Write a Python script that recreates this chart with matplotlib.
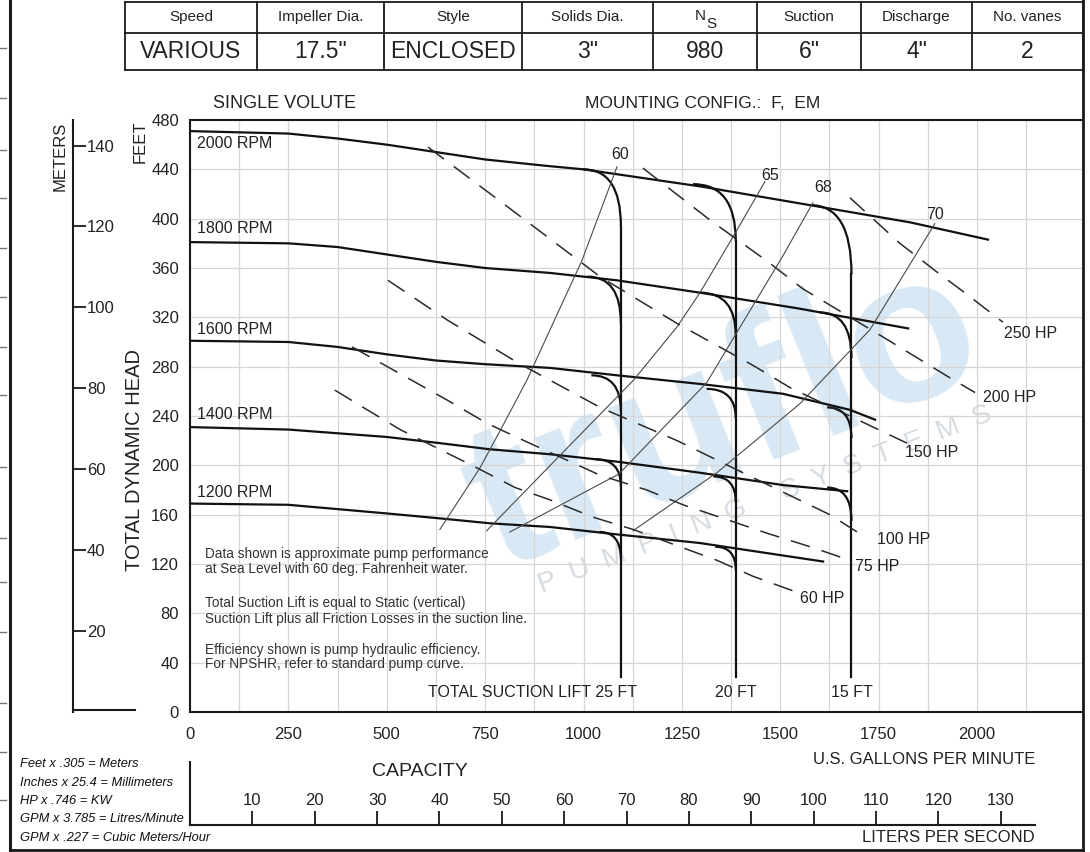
import numpy as np
import matplotlib
matplotlib.use('Agg')
import matplotlib.pyplot as plt
from matplotlib.path import Path
from matplotlib.patches import PathPatch
from matplotlib.lines import Line2D

plt.rcParams['font.family'] = ['Liberation Sans', 'DejaVu Sans']

# ---- data (US GPM, feet) ----
rpm_names = ['2000 RPM', '1800 RPM', '1600 RPM', '1400 RPM', '1200 RPM']
q2000 = [0, 250, 375, 500, 625, 750, 900, 1000, 1300, 1575, 1830, 2028]
h2000 = [471, 469, 465, 460, 454, 448, 443, 440, 426, 411, 397, 383]
q1800 = [0, 250, 375, 500, 625, 750, 915, 1085, 1296, 1550, 1825]
h1800 = [381, 380, 377, 371, 365, 360, 356, 350, 340, 327, 311]
q1600 = [0, 250, 375, 500, 625, 750, 915, 1085, 1296, 1507, 1677, 1741]
h1600 = [301, 300, 296, 290, 285, 282, 279, 273, 266, 258, 245, 237]
q1400 = [0, 250, 500, 635, 762, 915, 1085, 1296, 1507, 1670]
h1400 = [231, 229, 223, 218, 213, 209, 203, 194, 184, 179]
q1200 = [0, 250, 500, 635, 762, 915, 1085, 1296, 1609]
h1200 = [169, 168, 161, 157, 153, 150, 144, 137, 122]
rpm_label_q = [18, 18, 18, 18, 18]
rpm_label_h = [461, 392, 310, 241, 178]

# suction lift limits: vertical line position and knees off each head curve
lift_names = ['TOTAL SUCTION LIFT 25 FT', '20 FT', '15 FT']
lift_q = [1095, 1387, 1681]
lift_bottom = 28
knee_start_q = [[999, 1010, 1020, 1030, 1040],
                [1278, 1296, 1313, 1330, 1335],
                [1576, 1600, 1619, 1619]]
knee_start_h = [[440, 353, 273, 205, 146],
                [428, 340, 262, 191, 134],
                [411, 324, 247, 182]]
knee_end_h = [[394, 315, 244, 183, 124],
              [382, 305, 238, 170, 115],
              [355, 287, 222, 155]]

# efficiency curves (%)
eff_names = ['60', '65', '68', '70']
eff60_q = [635, 737, 793, 856, 915, 996, 1085]
eff60_h = [148, 198, 231, 269, 310, 366, 442]
eff65_q = [754, 940, 1127, 1237, 1296, 1385, 1461]
eff65_h = [147, 208, 269, 312, 340, 388, 430]
eff68_q = [813, 1090, 1313, 1507, 1583]
eff68_h = [146, 193, 267, 370, 413]
eff70_q = [1126, 1339, 1550, 1728, 1893]
eff70_h = [147, 194, 250, 310, 396]
eff_label_q = [1093, 1474, 1609, 1893]
eff_label_h = [452, 435, 425, 403]

# horsepower lines
hp_names = ['250 HP', '200 HP', '150 HP', '100 HP', '75 HP', '60 HP']
hp250_q = [1677, 1804, 1893, 1977, 2066]
hp250_h = [417, 380, 358, 338, 316]
hp200_q = [1151, 1321, 1469, 1558, 1746, 1931, 1995]
hp200_h = [441, 399, 365, 343, 307, 271, 259]
hp150_q = [605, 793, 1042, 1238, 1431, 1525, 1822]
hp150_h = [458, 413, 353, 315, 281, 263, 218]
hp100_q = [503, 653, 834, 1042, 1238, 1431, 1626, 1715]
hp100_h = [350, 318, 283, 247, 220, 190, 160, 142]
hp75_q = [412, 653, 755, 856, 1042, 1161, 1253, 1355, 1466, 1576, 1677]
hp75_h = [296, 253, 234, 219, 192, 180, 168, 157, 145, 134, 123]
hp60_q = [368, 440, 534, 628, 729, 826, 915, 1024, 1126, 1339, 1431, 1543]
hp60_h = [261, 247, 229, 214, 198, 182, 172, 158, 148, 123, 110, 97]
hp_label_q = [2068, 2015, 1817, 1746, 1690, 1550]
hp_label_h = [307, 255, 210, 140, 118, 92]

gpm_ticks = [0, 250, 500, 750, 1000, 1250, 1500, 1750, 2000]
feet_ticks = [0, 40, 80, 120, 160, 200, 240, 280, 320, 360, 400, 440, 480]
meter_ticks = [20, 40, 60, 80, 100, 120, 140]
lps_ticks = [10, 20, 30, 40, 50, 60, 70, 80, 90, 100, 110, 120, 130]

table_head = ['Speed', 'Impeller Dia.', 'Style', 'Solids Dia.', 'N', 'Suction', 'Discharge', 'No. vanes']
table_vals = ['VARIOUS', '17.5"', 'ENCLOSED', '3"', '980', '6"', '4"', '2']

notes = ['Data shown is approximate pump performance',
         'at Sea Level with 60 deg. Fahrenheit water.',
         '',
         'Total Suction Lift is equal to Static (vertical)',
         'Suction Lift plus all Friction Losses in the suction line.',
         '',
         'Efficiency shown is pump hydraulic efficiency.',
         'For NPSHR, refer to standard pump curve.']
conversions = ['Feet x .305 = Meters', 'Inches x 25.4 = Millimeters', 'HP x .746 = KW',
               'GPM x 3.785 = Litres/Minute', 'GPM x .227 = Cubic Meters/Hour']

# ---- figure ----
W, H = 1090, 852
fig = plt.figure(figsize=(W / 100, H / 100), dpi=100)


def fx(x):
    return x / W


def fy(y):
    return 1 - y / H


def fline(xs, ys, lw=1.5, color='#1a1a1a'):
    fig.add_artist(Line2D([fx(x) for x in xs], [fy(y) for y in ys], lw=lw, color=color))


txt = '#222222'

# watermark
fig.text(fx(725), fy(420), 'truflo', fontsize=150, fontweight='bold', color='#d8e9f5',
         rotation=22, ha='center', va='center', zorder=-5)
fig.text(fx(765), fy(500), 'P  U  M  P  I  N  G     S  Y  S  T  E  M  S', fontsize=20,
         color='#d5dbe0', rotation=21, ha='center', va='center', zorder=-5)

ax = fig.add_axes([fx(190), fy(712), (1083 - 190) / W, (712 - 120) / H])
ax.patch.set_visible(False)
gpm_max = (1083 - 190) / 0.3935
ax.set_xlim(0, gpm_max)
ax.set_ylim(0, 480)
ax.set_xticks(gpm_ticks)
ax.set_xticks(np.arange(125, gpm_max, 250), minor=True)
ax.set_yticks(feet_ticks)
ax.tick_params(axis='both', which='both', length=0, labelsize=12, labelcolor=txt)
ax.tick_params(axis='x', pad=11)
ax.tick_params(axis='y', pad=8)
ax.grid(True, which='both', color='#d6d6d6', lw=0.9)
ax.set_axisbelow(True)
for s in ['left', 'top', 'bottom']:
    ax.spines[s].set_linewidth(1.5)
    ax.spines[s].set_color('#1a1a1a')
ax.spines['right'].set_visible(False)

# head curves
head_q = [q2000, q1800, q1600, q1400, q1200]
head_h = [h2000, h1800, h1600, h1400, h1200]
for q, h, name, lq, lh in zip(head_q, head_h, rpm_names, rpm_label_q, rpm_label_h):
    ax.plot(q, h, color='#111111', lw=1.6, solid_joinstyle='round')
    ax.text(lq, lh, name, fontsize=11.5, color=txt, ha='left', va='center')

# suction lift knees and verticals
for i, lq in enumerate(lift_q):
    for sq, sh, eh in zip(knee_start_q[i], knee_start_h[i], knee_end_h[i]):
        p = Path([(sq, sh), (lq, sh), (lq, eh)], [Path.MOVETO, Path.CURVE3, Path.CURVE3])
        ax.add_patch(PathPatch(p, fill=False, ec='#111111', lw=1.6))
    ax.plot([lq, lq], [knee_end_h[i][0], lift_bottom], color='#111111', lw=1.6)
ax.text(1136, 16, lift_names[0], fontsize=11.5, color=txt, ha='right', va='center')
ax.text(lift_q[1], 16, lift_names[1], fontsize=11.5, color=txt, ha='center', va='center')
ax.text(lift_q[2], 16, lift_names[2], fontsize=11.5, color=txt, ha='center', va='center')

# efficiency curves
eff_q = [eff60_q, eff65_q, eff68_q, eff70_q]
eff_h = [eff60_h, eff65_h, eff68_h, eff70_h]
for q, h, name, lq, lh in zip(eff_q, eff_h, eff_names, eff_label_q, eff_label_h):
    ax.plot(q, h, color='#4a4a4a', lw=0.8)
    ax.text(lq, lh, name, fontsize=11.5, color=txt, ha='center', va='center')

# horsepower lines
hp_q = [hp250_q, hp200_q, hp150_q, hp100_q, hp75_q, hp60_q]
hp_h = [hp250_h, hp200_h, hp150_h, hp100_h, hp75_h, hp60_h]
for q, h, name, lq, lh in zip(hp_q, hp_h, hp_names, hp_label_q, hp_label_h):
    ax.plot(q, h, color='#2a2a2a', lw=1.1, dashes=(13, 8))
    ax.text(lq, lh, name, fontsize=11.5, color=txt, ha='left', va='center')

# notes
note_y = [128, 116, 0, 88, 75, 0, 50, 39]
for line, ny in zip(notes, note_y):
    if line:
        ax.text(38, ny, line, fontsize=9.8, color='#333333', ha='left', va='center')

# meters axis
axm = fig.add_axes([fx(73), fy(712), 0.00001, (712 - 120) / H])
axm.patch.set_visible(False)
axm.set_ylim(0, 480 * 0.3048)
for s in ['top', 'bottom', 'left']:
    axm.spines[s].set_visible(False)
axm.spines['right'].set_linewidth(1.5)
axm.spines['right'].set_color('#1a1a1a')
axm.yaxis.set_ticks_position('right')
axm.set_yticks(meter_ticks)
axm.tick_params(axis='y', direction='out', length=9, width=1.3, pad=1, labelsize=12,
                labelcolor=txt, color='#1a1a1a')
axm.set_xticks([])
fline([73, 135], [710, 710])

# liters per second axis
axl = fig.add_axes([fx(190), fy(825), (1035 - 190) / W, 0.00001])
axl.patch.set_visible(False)
axl.set_xlim(0, (1035 - 190) / 0.3935 / 15.850)
for s in ['top', 'left', 'right']:
    axl.spines[s].set_visible(False)
axl.spines['bottom'].set_linewidth(1.5)
axl.spines['bottom'].set_color('#1a1a1a')
axl.xaxis.set_ticks_position('top')
axl.set_xticks(lps_ticks)
axl.tick_params(axis='x', direction='out', length=10, width=1.3, pad=2, labelsize=12,
                labelcolor=txt, color='#1a1a1a')
axl.set_yticks([])
fline([190, 190], [762, 825])

# axis titles
fig.text(fx(60), fy(156), 'METERS', rotation=90, fontsize=12, color=txt, ha='center', va='center')
fig.text(fx(140), fy(142), 'FEET', rotation=90, fontsize=12, color=txt, ha='center', va='center')
fig.text(fx(135), fy(460), 'TOTAL DYNAMIC HEAD', rotation=90, fontsize=14.5, color=txt,
         ha='center', va='center')
fig.text(fx(420), fy(772), 'CAPACITY', fontsize=14, color=txt, ha='center', va='center')
fig.text(fx(1035), fy(760), 'U.S. GALLONS PER MINUTE', fontsize=12, color=txt, ha='right', va='center')
fig.text(fx(1035), fy(838), 'LITERS PER SECOND', fontsize=12, color=txt, ha='right', va='center')
fig.text(fx(213), fy(103), 'SINGLE VOLUTE', fontsize=13, color=txt, ha='left', va='center')
fig.text(fx(585), fy(103), 'MOUNTING CONFIG.:  F,  EM', fontsize=12.5, color=txt, ha='left', va='center')

for i, line in enumerate(conversions):
    fig.text(fx(20), fy(764 + 18.5 * i), line, fontsize=9.3, style='italic', color='#111111',
             ha='left', va='center')

# spec table
col_x = [125, 257, 384, 522, 653, 757, 861, 972, 1083]
fline([125, 1083], [2, 2], lw=1.3)
fline([125, 1083], [33, 33], lw=1.3)
fline([125, 1083], [70, 70], lw=1.3)
for cx in col_x:
    fline([cx, cx], [2, 70], lw=1.3)
for i, (hd, val) in enumerate(zip(table_head, table_vals)):
    cx = (col_x[i] + col_x[i + 1]) / 2
    if hd == 'N':
        fig.text(fx(cx - 5), fy(16), 'N', fontsize=11, color=txt, ha='center', va='center')
        fig.text(fx(cx + 6), fy(24), 'S', fontsize=11, color=txt, ha='center', va='center')
    else:
        fig.text(fx(cx), fy(17), hd, fontsize=11, color=txt, ha='center', va='center')
    fig.text(fx(cx), fy(52), val, fontsize=16.5, color=txt, ha='center', va='center')

# page frame
fline([10, 10], [0, 852], lw=2.2)
fline([1083, 1083], [0, 852], lw=2.0)
fline([10, 1083], [850, 850], lw=2.0)
for my in [48, 98, 150, 198, 248, 297, 347, 395, 467, 538, 582, 632, 703, 752, 800]:
    fline([0, 6], [my, my], lw=1.0, color='#777777')

fig.savefig('out.png', dpi=100)
